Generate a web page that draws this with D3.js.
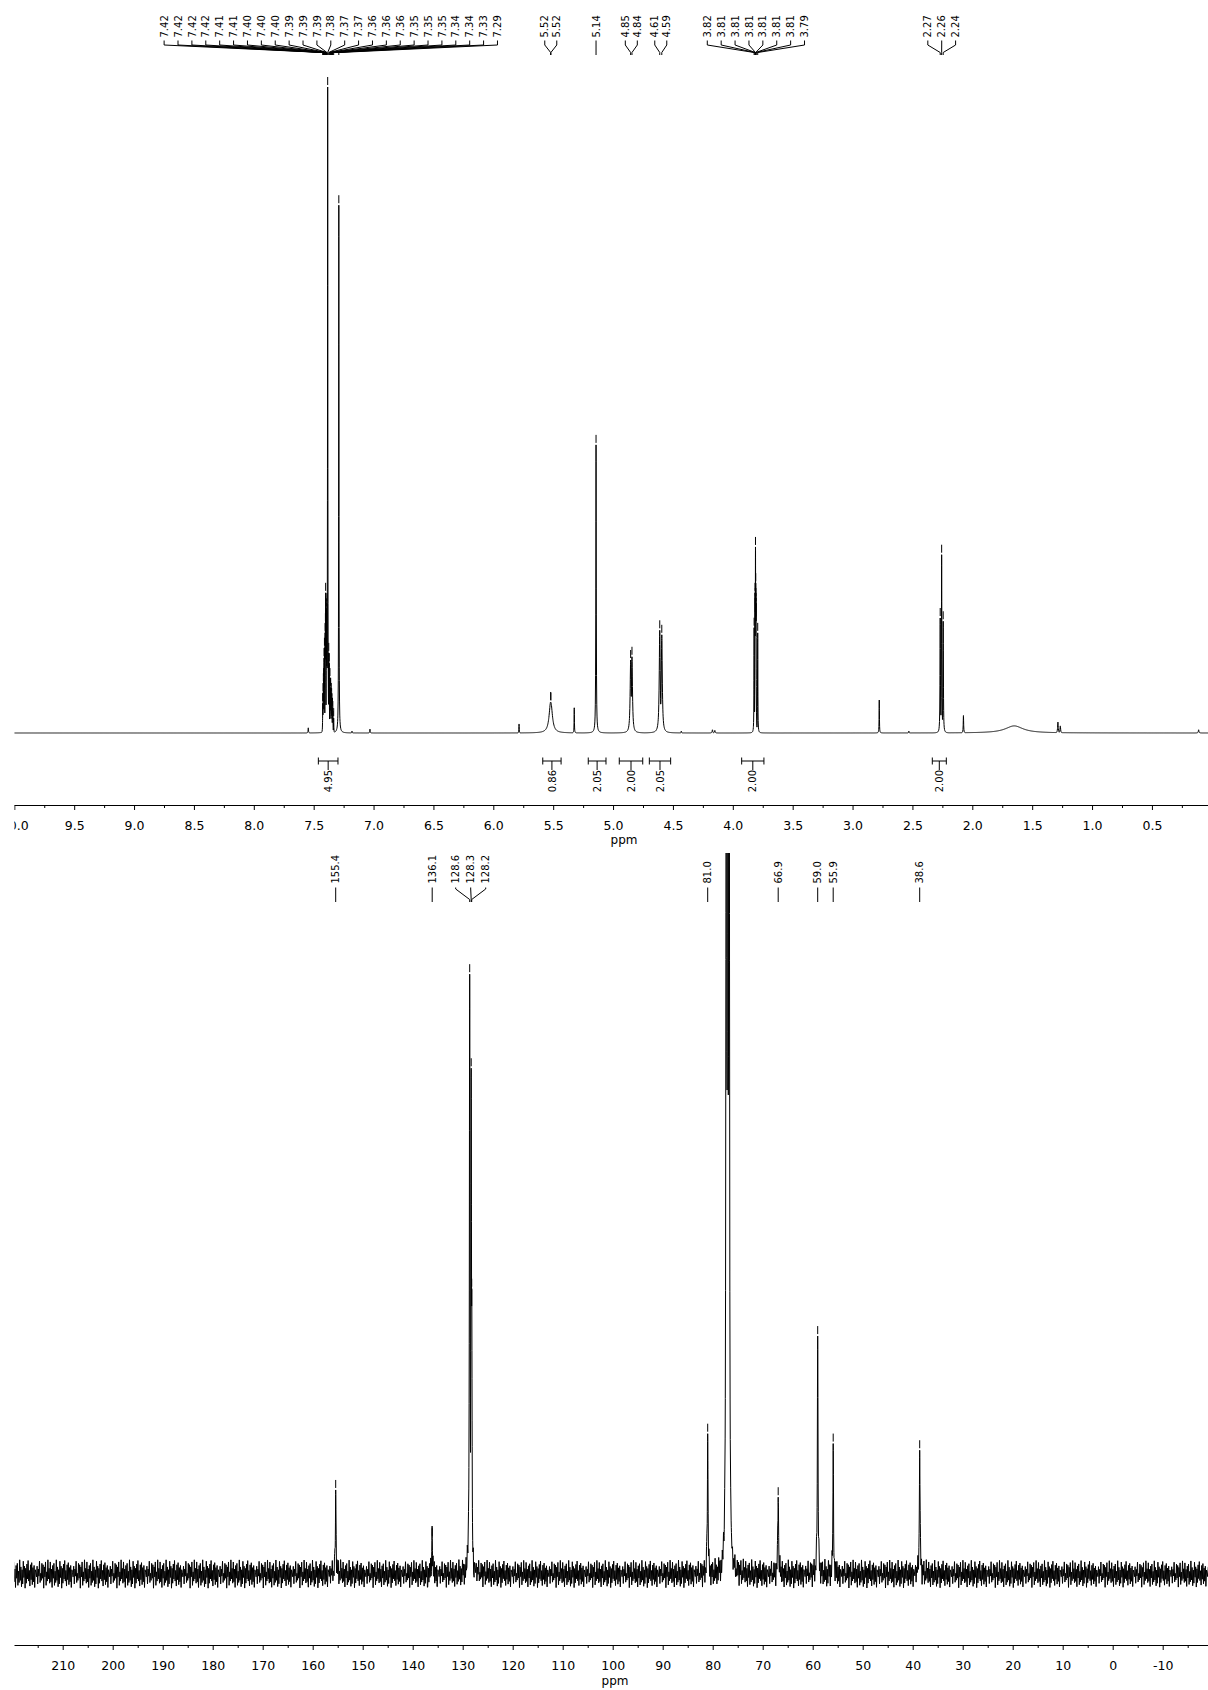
<!DOCTYPE html>
<html><head><meta charset="utf-8">
<script src="https://cdn.jsdelivr.net/npm/d3@7"></script>
<style>
html,body{margin:0;padding:0;background:#fff;}
svg{display:block;}
text{font-family:"DejaVu Sans",Verdana,sans-serif;fill:#000;}
</style>
</head><body>
<svg id="chart" width="1208" height="1690"></svg>
<script>
// ---------------- DATA: 1H spectrum (ppm, relative intensity, half-width in ppm, label group) --------------
const h1Ppm = [7.424,7.421,7.419,7.417,7.413,7.410,7.404,7.402,7.400,7.394,7.392,7.389,7.383,7.374,7.370,7.364,7.361,7.358,7.353,7.350,7.347,7.343,7.340,7.333,7.290,
  5.521,5.519, 5.142, 4.853,4.842, 4.610,4.593,
  3.822,3.8145,3.8125,3.8105,3.8085,3.807,3.8055,3.792,
  2.268,2.256,2.243,
  7.545,7.18,7.03,5.785,5.324,4.43,4.17,4.15,2.777,2.53,2.074,1.65,1.285,1.265,0.11];
const h1Int = [4.6,6.2,7.7,8.5,11.6,13.2,15.5,17.0,21.7,19.3,17.0,20.1,100,12.4,10.8,8.5,7.0,7.0,6.2,5.4,4.6,3.9,3.4,2.3,81.7,
  4.8,4.7, 44.6, 11.3,11.8, 15.9,15.2,
  16.3,21.7,20.9,28.8,23.2,20.9,20.1,15.5,
  17.8,27.6,17.3,
  0.8,0.3,0.6,1.4,3.9,0.3,0.5,0.4,5.1,0.3,2.7,1.1,1.7,1.1,0.5];
const h1Width = [0.0015,0.0015,0.0015,0.0015,0.0015,0.0015,0.0015,0.0015,0.0015,0.0015,0.0015,0.0015,0.0015,0.0015,0.0015,0.0015,0.0015,0.0015,0.0015,0.0015,0.0015,0.0015,0.0015,0.0015,0.0015,
  0.015,0.015, 0.002, 0.005,0.005, 0.005,0.005,
  0.0015,0.0015,0.0015,0.0015,0.0015,0.0015,0.0015,0.0015,
  0.002,0.002,0.002,
  0.002,0.002,0.002,0.0015,0.0015,0.002,0.003,0.003,0.0015,0.002,0.002,0.09,0.003,0.003,0.003];
const h1Group = [0,0,0,0,0,0,0,0,0,0,0,0,0,0,0,0,0,0,0,0,0,0,0,0,0,
  1,1, 2, 3,3, 4,4,
  5,5,5,5,5,5,5,5,
  6,6,6,
  -1,-1,-1,-1,-1,-1,-1,-1,-1,-1,-1,-1,-1,-1,-1];

// integrals
const h1IntFrom = [7.461,5.587,5.207,4.948,4.697,3.926,2.334];
const h1IntTo   = [7.297,5.434,5.059,4.752,4.519,3.740,2.217];
const h1IntVal  = ["4.95","0.86","2.05","2.00","2.05","2.00","2.00"];

// axis ticks
const h1Ticks = [10.0,9.5,9.0,8.5,8.0,7.5,7.0,6.5,6.0,5.5,5.0,4.5,4.0,3.5,3.0,2.5,2.0,1.5,1.0,0.5,0];
const h1MinorTicks = [9.75,9.25,8.75,8.25,7.75,7.25,6.75,6.25,5.75,5.25,4.75,4.25,3.75,3.25,2.75,2.25,1.75,1.25,0.75,0.25];

// ---------------- DATA: 13C spectrum --------------
const c13Ppm   = [155.4,136.1,128.6,128.3,128.2,81.0,66.9,59.0,55.9,38.6, 77.27,77.0,76.73];
const c13Int   = [12.7,8.0,100,87.3,50,22.8,14.9,39.3,19.8,22.0, 250,260,250];
const c13Width = [0.08,0.08,0.08,0.08,0.08,0.08,0.08,0.08,0.08,0.08, 0.08,0.08,0.08];
const c13Group = [0,1,2,2,2,3,4,5,6,7,-1,-1,-1];
const c13Ticks = [210,200,190,180,170,160,150,140,130,120,110,100,90,80,70,60,50,40,30,20,10,0,-10];
const c13MinorTicks = [215,205,195,185,175,165,155,145,135,125,115,105,95,85,75,65,55,45,35,25,15,5,-5,-15];
// baseline noise envelope (relative intensity units)
const c13NoisePpm = [220,180,140,100,60,20,-20];
const c13NoiseAmp = [2.4,2.4,2.3,2.3,2.4,2.3,2.2];
// fixed texture pattern used to render the noise band
const noiseTexture = [0.85,-0.55,0.35,-0.95,0.6,-0.3,0.75,-0.8,0.2,-0.6,1.0,-0.45,0.5,-0.9,0.3,-0.7,0.9,-0.25,0.55,-1.0,
  0.4,-0.65,0.7,-0.35,0.95,-0.5,0.25,-0.85,0.65,-0.4,0.8,-0.75,0.45,-0.55,0.6,-0.95,0.3,0.1,-0.2,0.55,
  -0.7,0.35,-0.15,0.9,-0.6,0.05,-0.45,0.75,-0.3,0.65,-1.0,0.5,-0.2,0.85,-0.8,0.15,-0.5,1.0,-0.35,0.4,-0.65];

// ---------------- RENDER --------------
const W = 1208, H = 1690;
const svg = d3.select("#chart");
svg.append("rect").attr("width", W).attr("height", H).attr("fill", "#fff");
const defs = svg.append("defs");
defs.append("clipPath").attr("id","clipAll").append("rect").attr("x",14.3).attr("y",0).attr("width",W).attr("height",H);
defs.append("clipPath").attr("id","clipC").append("rect").attr("x",14.3).attr("y",853).attr("width",W).attr("height",800);
const root = svg.append("g").attr("clip-path","url(#clipAll)");

const xH = d3.scaleLinear().domain([10, 0]).range([14.3, 1211.8]);
const yH = d3.scaleLinear().domain([0, 100]).range([733, 87]);
const xC = d3.scaleLinear().domain([210, -10]).range([62.7, 1162.7]);
const yC = d3.scaleLinear().domain([0, 100]).range([1574, 983]);

function composite(v, ppm, ints, widths){
  let m = 0;
  for (let i = 0; i < ppm.length; i++){
    const t = (v - ppm[i]) / widths[i];
    if (Math.abs(t) > 2000) continue;
    const y = ints[i] / (1 + t*t);
    if (y > m) m = y;
  }
  return m;
}
function samplePoints(from, to, step, ppm, widths){
  const n = Math.floor((from - to) / step);
  const pts = [];
  for (let i = 0; i <= n; i++) pts.push(from - i*step);
  const ks = [-12,-6,-3,-2,-1.2,-0.6,-0.25,0,0.25,0.6,1.2,2,3,6,12];
  ppm.forEach((p,i) => ks.forEach(k => { const v = p + k*widths[i]; if (v <= from && v >= to) pts.push(v); }));
  pts.sort((a,b) => b - a);
  return pts;
}

// ---- 1H spectrum
const hPts = samplePoints(10.0, 0.02, 0.002, h1Ppm, h1Width).map(v => [v, composite(v, h1Ppm, h1Int, h1Width)]);
root.append("path").datum(hPts)
  .attr("d", d3.line().x(d => xH(d[0])).y(d => yH(d[1])))
  .attr("fill","none").attr("stroke","#000").attr("stroke-width",1);

// ---- peak labels helper
function drawPicks(ppm, groups, xs, yTopFn, opt){
  const idx = d3.range(ppm.length).filter(i => groups[i] >= 0);
  const byGroup = d3.group(idx, i => groups[i]);
  const g = root.append("g");
  byGroup.forEach(members => {
    const pxs = members.map(i => xs(ppm[i]));
    const center = (d3.min(pxs) + d3.max(pxs)) / 2;
    const n = members.length;
    const pitch = n === 2 ? opt.pitchPair : opt.pitch;
    members.forEach((i, k) => {
      const px = xs(ppm[i]);
      const lx = center + (k - (n-1)/2) * pitch;
      g.append("text")
        .attr("transform", `translate(${lx},${opt.textBottom}) rotate(-90)`)
        .attr("dy","0.36em").attr("text-anchor","start")
        .style("font-size", opt.fontSize + "px")
        .text(ppm[i].toFixed(opt.dec));
      let d;
      if (n === 1) d = `M${px},${opt.y1}V${opt.y4}`;
      else d = `M${lx},${opt.y1}V${opt.y2}L${px},${opt.y3}V${opt.y4}`;
      g.append("path").attr("d", d).attr("fill","none").attr("stroke","#000").attr("stroke-width",1);
      const yt = yTopFn(i);
      g.append("line").attr("x1",px).attr("x2",px).attr("y1",yt-10).attr("y2",yt-2)
        .attr("stroke","#000").attr("stroke-width",1);
    });
  });
}
drawPicks(h1Ppm, h1Group, xH,
  i => yH(composite(h1Ppm[i], h1Ppm, h1Int, h1Width)),
  {pitch:13.89, pitchPair:12, textBottom:37.5, y1:40.5, y2:45, y3:52.5, y4:55, fontSize:10, dec:2});

// ---- integrals
const ig = root.append("g");
h1IntFrom.forEach((a, i) => {
  const x1 = xH(a), x2 = xH(h1IntTo[i]), cx = (x1 + x2)/2;
  ig.append("path")
    .attr("d", `M${x1},761H${x2}M${x1},757.5V764.5M${x2},757.5V764.5M${cx},761V770`)
    .attr("fill","none").attr("stroke","#000").attr("stroke-width",1);
  ig.append("text")
    .attr("transform", `translate(${cx},770) rotate(-90)`)
    .attr("dy","0.36em").attr("text-anchor","end")
    .style("font-size","10px")
    .text(h1IntVal[i]);
});

// ---- axes
function styleAxis(sel){
  sel.select(".domain").attr("stroke","#000");
  sel.selectAll(".tick line").attr("stroke","#000");
  sel.selectAll(".tick text").style("font-family",'"DejaVu Sans",Verdana,sans-serif').style("font-size","12.5px").attr("fill","#000");
  sel.attr("font-family", null).attr("font-size", null);
}
const axH = root.append("g").attr("transform","translate(0,805)")
  .call(d3.axisBottom(xH).tickValues(h1Ticks).tickSize(5).tickSizeOuter(0).tickPadding(11)
    .tickFormat(v => v === 0 ? "0" : v.toFixed(1)));
styleAxis(axH);
const axHm = root.append("g").attr("transform","translate(0,805)")
  .call(d3.axisBottom(xH).tickValues(h1MinorTicks).tickSize(3).tickSizeOuter(0).tickFormat(""));
styleAxis(axHm);
root.append("text").attr("x",624).attr("y",843.5).attr("text-anchor","middle").style("font-size","12px").text("ppm");

// ---- 13C spectrum
const ampScale = d3.scaleLinear().domain(c13NoisePpm).range(c13NoiseAmp);
const cFrom = 219.8, cTo = -19.2, cStep = 0.12;
function noiseAt(v){
  const k = Math.round((cFrom - v) / cStep);
  return ampScale(v) * noiseTexture[((k % noiseTexture.length) + noiseTexture.length) % noiseTexture.length];
}
function c13Value(v){ return composite(v, c13Ppm, c13Int, c13Width) + noiseAt(v); }
const cPts = samplePoints(cFrom, cTo, cStep, c13Ppm, c13Width).map(v => [v, c13Value(v)]);
root.append("g").attr("clip-path","url(#clipC)").append("path").datum(cPts)
  .attr("d", d3.line().x(d => xC(d[0])).y(d => yC(d[1])))
  .attr("fill","none").attr("stroke","#000").attr("stroke-width",1);

drawPicks(c13Ppm, c13Group, xC,
  i => yC(c13Value(c13Ppm[i])),
  {pitch:15, pitchPair:15, textBottom:883.5, y1:887.5, y2:889, y3:899.5, y4:902, fontSize:10, dec:1});

const axC = root.append("g").attr("transform","translate(0,1645)")
  .call(d3.axisBottom(xC).tickValues(c13Ticks).tickSize(5).tickSizeOuter(0).tickPadding(11)
    .tickFormat(v => String(v)));
styleAxis(axC);
// extend domain line to the full visible range
axC.select(".domain").attr("d", `M14.3,0.5H1208`);
const axCm = root.append("g").attr("transform","translate(0,1645)")
  .call(d3.axisBottom(xC).tickValues(c13MinorTicks).tickSize(3).tickSizeOuter(0).tickFormat(""));
styleAxis(axCm);
axCm.select(".domain").remove();
root.append("text").attr("x",615).attr("y",1685).attr("text-anchor","middle").style("font-size","12px").text("ppm");
</script>
</body></html>
